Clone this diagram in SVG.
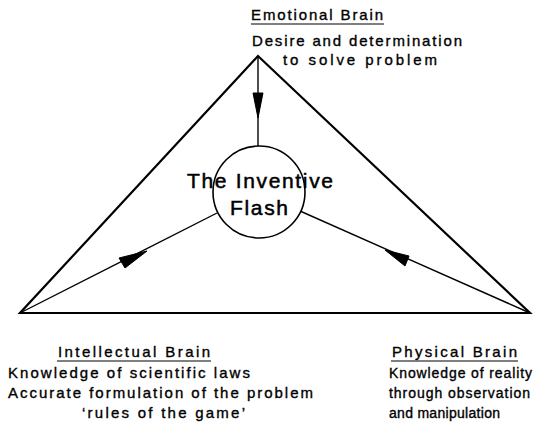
<svg xmlns="http://www.w3.org/2000/svg" width="536" height="422" viewBox="0 0 536 422">
<style>
.t{font-family:"Liberation Sans",Arial,sans-serif;font-size:15px;fill:#000;stroke:#000;stroke-width:0.35;}
.s{font-size:14px;}
.big{font-family:"Liberation Sans",Arial,sans-serif;font-size:21px;fill:#000;stroke:#000;stroke-width:0.5;}
.ln{stroke:#000;fill:none;}
.ul{stroke:#000;stroke-width:1.2;}
.ah{fill:#000;stroke:#000;stroke-width:1;stroke-linejoin:round;}
</style>
<rect width="536" height="422" fill="#fff"/>
<g id="connectors">
<polygon class="ln" points="258,56 20,313 530,313" stroke-width="2.2" stroke-linejoin="miter"/>
<line class="ln" x1="258" y1="56" x2="258" y2="147" stroke-width="1.4"/>
<polygon class="ah" points="253,93 263,93 258,118"/>
<line class="ln" x1="20" y1="313" x2="217" y2="213" stroke-width="1.4"/>
<polygon class="ah" points="119,258 125,268 147,251"/>
<line class="ln" x1="530" y1="313" x2="300" y2="211" stroke-width="1.4"/>
<polygon class="ah" points="409,256 405,266 385,250"/>
</g>
<g id="flash">
<circle cx="259" cy="192" r="46" fill="#fff" stroke="#000" stroke-width="1.6"/>
<text class="big" x="187" y="188" textLength="146" lengthAdjust="spacing">The Inventive</text>
<text class="big" x="230" y="215" textLength="58" lengthAdjust="spacing">Flash</text>
</g>
<g id="emotional">
<text class="t" x="251" y="20" textLength="132" lengthAdjust="spacing">Emotional Brain</text>
<line class="ul" x1="251" y1="24" x2="384" y2="24"/>
<text class="t" x="252" y="46" textLength="210" lengthAdjust="spacing">Desire and determination</text>
<text class="t" x="283" y="65" textLength="154" lengthAdjust="spacing">to solve problem</text>
</g>
<g id="intellectual">
<text class="t" x="58" y="357" textLength="152" lengthAdjust="spacing">Intellectual Brain</text>
<line class="ul" x1="57" y1="361" x2="211" y2="361"/>
<text class="t" x="8" y="378" textLength="242" lengthAdjust="spacing">Knowledge of scientific laws</text>
<text class="t" x="8" y="398" textLength="305" lengthAdjust="spacing">Accurate formulation of the problem</text>
<text class="t" x="82" y="418" textLength="163" lengthAdjust="spacing">‘rules of the game’</text>
</g>
<g id="physical">
<text class="t" x="392" y="357" textLength="125" lengthAdjust="spacing">Physical Brain</text>
<line class="ul" x1="391" y1="361" x2="518" y2="361"/>
<text class="t s" x="389" y="378" textLength="143" lengthAdjust="spacing">Knowledge of reality</text>
<text class="t s" x="389" y="398" textLength="141" lengthAdjust="spacing">through observation</text>
<text class="t s" x="389" y="418" textLength="111" lengthAdjust="spacing">and manipulation</text>
</g>
</svg>
